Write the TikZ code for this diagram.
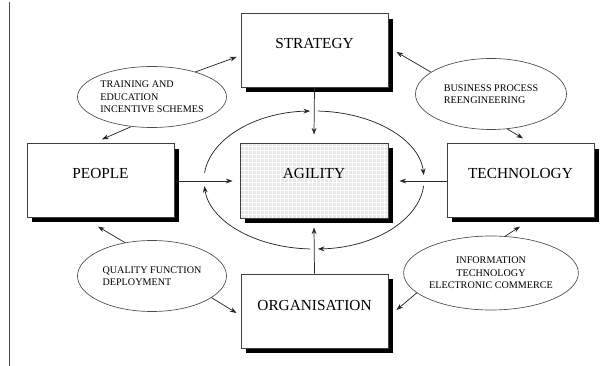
\documentclass[tikz,border=0pt]{standalone}
\usepackage{fontspec}
\setmainfont{Liberation Serif}
\usetikzlibrary{shapes.geometric,arrows.meta,shadows,patterns,calc}
\begin{document}
\begin{tikzpicture}[x=0.75pt,y=-0.75pt,
  box/.style={rectangle,draw=black!75,line width=0.7pt,fill=white,minimum width=110.25pt,minimum height=55pt,inner sep=0pt,
    drop shadow={shadow xshift=3.75pt,shadow yshift=-3.75pt,fill=black,opacity=1}},
  blbl/.style={font=\fontsize{11.5}{13}\selectfont,inner sep=0pt},
  ell/.style={ellipse,draw=black!70,line width=0.5pt,inner sep=0pt,font=\fontsize{7.6}{9.4}\selectfont},
  arr/.style={draw=black!85,line width=0.55pt,-{Stealth[length=5pt,width=3.6pt]}}]
\useasboundingbox (0,0) rectangle (610,366);
\draw[black!70,line width=0.7pt] (9,2) -- (9,366);

% boxes
\node[box,label={[blbl,yshift=5.6pt]center:STRATEGY}] (strat) at (314.5,50.5) {};
\node[box,label={[blbl,yshift=5.6pt]center:PEOPLE}] (people) at (100.5,180.5) {};
\node[box,label={[blbl,yshift=5.6pt]center:TECHNOLOGY}] (tech) at (520.5,180.5) {};
\node[box,minimum height=55.5pt,label={[blbl,yshift=4.5pt]center:ORGANISATION}] (org) at (314.5,311) {};
\node[box,minimum width=111pt,minimum height=56.25pt,preaction={fill=black!9},pattern=grid,pattern color=white,
  label={[blbl,yshift=5.6pt]center:AGILITY}] (ag) at (314,180.5) {};

% ellipses
\node[ell,minimum width=111.75pt,minimum height=45.75pt,align=left] (tr) at (152,97) {TRAINING AND\\EDUCATION\\INCENTIVE SCHEMES};
\node[ell,minimum width=113.25pt,minimum height=53.25pt,align=left] (bp) at (491,94) {BUSINESS PROCESS\\REENGINEERING};
\node[ell,minimum width=111.75pt,minimum height=53.25pt,align=left] (qf) at (152,276) {QUALITY FUNCTION\\DEPLOYMENT};
\node[ell,minimum width=111pt,minimum height=55.5pt,align=center] (it) at (491,273) {INFORMATION\\TECHNOLOGY\\ELECTRONIC COMMERCE};

% ellipse -> box connectors
\draw[arr] (tr.30) -- ($(strat.west)+(-4,6.5)$);
\draw[arr] (tr.235) -- ($(people.north)+(1.5,-4)$);
\draw[arr] (bp.160) -- ($(strat.east)+(8,1.5)$);
\draw[arr] (bp.295) -- ($(tech.north)+(2.5,-5)$);
\draw[arr] (qf.129) -- ($(people.south)+(-2.5,9)$);
\draw[arr] (qf.340) -- ($(org.west)+(-4,2)$);
\draw[arr] (it.69) -- ($(tech.south)+(-0.5,9)$);
\draw[arr] (it.195) -- ($(org.east)+(8,-1)$);

% straight arrows to agility
\draw[arr] (strat.south) -- ($(ag.north)+(0,-8)$);
\draw[arr] ($(people.east)+(5,0.5)$) -- ($(ag.west)+(-7,0.5)$);
\draw[arr] ($(tech.west)+(0,0.5)$) -- ($(ag.east)+(11,0.5)$);
\draw[arr] (org.north) -- ($(ag.south)+(0,9)$);

% circular flow around agility
\coordinate (E) at (314,180);
\draw[arr] (E) ++(174:82.5pt and 51.75pt) arc[start angle=174,end angle=92,x radius=82.5pt,y radius=51.75pt];
\draw[arr] (E) ++(88:82.5pt and 51.75pt) arc[start angle=88,end angle=4,x radius=82.5pt,y radius=51.75pt];
\draw[arr] (E) ++(-5:82.5pt and 51.75pt) arc[start angle=-5,end angle=-88,x radius=82.5pt,y radius=51.75pt];
\draw[arr] (E) ++(-92:82.5pt and 51.75pt) arc[start angle=-92,end angle=-175,x radius=82.5pt,y radius=51.75pt];
\end{tikzpicture}
\end{document}
